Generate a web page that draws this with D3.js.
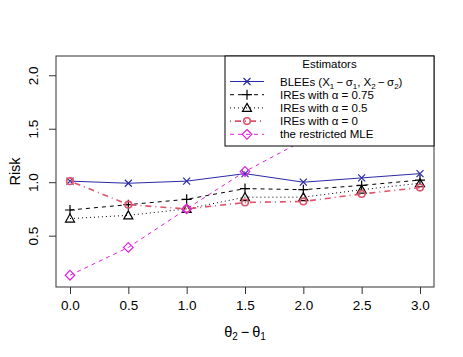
<!DOCTYPE html>
<html>
<head>
<meta charset="utf-8">
<script src="https://cdn.jsdelivr.net/npm/d3@7"></script>
<style>
  body { margin: 0; background: #fff; }
  svg { font-family: "Liberation Sans", Arial, sans-serif; }
</style>
</head>
<body>
<div id="chart"></div>
<script>
// data
var thetaDiff = [0, 0.5, 1.0, 1.5, 2.0, 2.5, 3.0];
var blee   = [1.01, 0.99, 1.01, 1.08, 1.00, 1.04, 1.08];
var ire075 = [0.74, 0.79, 0.84, 0.94, 0.93, 0.97, 1.02];
var ire05  = [0.66, 0.69, 0.75, 0.86, 0.86, 0.93, 0.99];
var ire0   = [1.01, 0.79, 0.75, 0.81, 0.82, 0.89, 0.95];
var mle    = [0.13, 0.39, 0.75, 1.10, 1.39, 1.66, 1.92];
var xTicks = [0, 0.5, 1.0, 1.5, 2.0, 2.5, 3.0];
var yTicks = [0.5, 1.0, 1.5, 2.0];

var width = 463, height = 357;
// plot region (note: "top" is reserved on window, so use pTop etc.)
var pLeft = 56, pRight = 434, pTop = 56, pBottom = 287;

var series = [
  {name: "blee",   values: blee,   color: "#2a2aa6", dash: null,      lw: 1,   pch: "x"},
  {name: "ire075", values: ire075, color: "#000000", dash: "4,4",     lw: 1,   pch: "plus"},
  {name: "ire05",  values: ire05,  color: "#000000", dash: "1,3",     lw: 1,   pch: "tri"},
  {name: "ire0",   values: ire0,   color: "#df536b", dash: "1,4,6,4", lw: 1.6, pch: "circ"},
  {name: "mle",    values: mle,    color: "#dd22dd", dash: "4,4",     lw: 1,   pch: "diam"}
];

var svg = d3.select("#chart").append("svg")
    .attr("width", width)
    .attr("height", height);

var x = d3.scaleLinear().domain([-0.12, 3.12]).range([pLeft, pRight]);
var y = d3.scaleLinear().domain([0.02, 2.18]).range([pBottom, pTop]);

svg.append("clipPath").attr("id", "clip")
  .append("rect")
    .attr("x", pLeft).attr("y", pTop)
    .attr("width", pRight - pLeft).attr("height", pBottom - pTop);

// axes
var xAxis = svg.append("g")
    .attr("transform", "translate(0," + pBottom + ")")
    .call(d3.axisBottom(x).tickValues(xTicks).tickFormat(d3.format(".1f")).tickSize(7).tickSizeOuter(0));
var yAxis = svg.append("g")
    .attr("transform", "translate(" + pLeft + ",0)")
    .call(d3.axisLeft(y).tickValues(yTicks).tickFormat(d3.format(".1f")).tickSize(7).tickSizeOuter(0));
xAxis.select(".domain").remove();
yAxis.select(".domain").remove();
xAxis.selectAll("line").attr("stroke", "#333");
yAxis.selectAll("line").attr("stroke", "#333");
xAxis.selectAll("text")
    .attr("y", 13).attr("dy", "0.71em")
    .attr("font-size", 13.5).attr("fill", "#000")
    .attr("font-family", "Liberation Sans, Arial, sans-serif");
yAxis.selectAll("text")
    .attr("x", 0).attr("dy", 0).attr("y", 0)
    .attr("text-anchor", "middle")
    .attr("transform", "translate(-18,0) rotate(-90)")
    .attr("font-size", 13.5).attr("fill", "#000")
    .attr("font-family", "Liberation Sans, Arial, sans-serif");

// plot frame
svg.append("rect")
    .attr("x", pLeft).attr("y", pTop)
    .attr("width", pRight - pLeft).attr("height", pBottom - pTop)
    .attr("fill", "none").attr("stroke", "#333").attr("stroke-width", 1);

// axis titles
svg.append("text")
    .attr("transform", "translate(15," + ((pTop + pBottom) / 2) + ") rotate(-90)")
    .attr("text-anchor", "middle").attr("dy", "0.35em")
    .attr("font-size", 14.5)
    .text("Risk");

var xlab = svg.append("text")
    .attr("x", (pLeft + pRight) / 2).attr("y", 332)
    .attr("text-anchor", "middle").attr("dy", "0.35em")
    .attr("font-size", 14.5);
xlab.append("tspan").text("θ");
xlab.append("tspan").attr("font-size", 10).attr("dy", 3).text("2");
xlab.append("tspan").attr("dy", -3).text("\u2009−\u2009θ");
xlab.append("tspan").attr("font-size", 10).attr("dy", 3).text("1");

function drawSymbol(g, type, cx, cy, color, lw) {
  if (type == "x") {
    g.append("path").attr("d", "M" + (cx - 3.5) + "," + (cy - 3.5) + "L" + (cx + 3.5) + "," + (cy + 3.5) +
        "M" + (cx - 3.5) + "," + (cy + 3.5) + "L" + (cx + 3.5) + "," + (cy - 3.5))
      .attr("stroke", color).attr("stroke-width", lw).attr("fill", "none");
  } else if (type == "plus") {
    g.append("path").attr("d", "M" + (cx - 5) + "," + cy + "L" + (cx + 5) + "," + cy +
        "M" + cx + "," + (cy - 5) + "L" + cx + "," + (cy + 5))
      .attr("stroke", color).attr("stroke-width", lw).attr("fill", "none");
  } else if (type == "tri") {
    g.append("path").attr("d", "M" + cx + "," + (cy - 4.5) + "L" + (cx + 4.5) + "," + (cy + 3.5) +
        "L" + (cx - 4.5) + "," + (cy + 3.5) + "Z")
      .attr("stroke", color).attr("stroke-width", lw).attr("fill", "none");
  } else if (type == "circ") {
    g.append("circle").attr("cx", cx).attr("cy", cy).attr("r", 3.3)
      .attr("stroke", color).attr("stroke-width", lw).attr("fill", "none");
  } else if (type == "diam") {
    g.append("path").attr("d", "M" + cx + "," + (cy - 4.8) + "L" + (cx + 4.8) + "," + cy +
        "L" + cx + "," + (cy + 4.8) + "L" + (cx - 4.8) + "," + cy + "Z")
      .attr("stroke", color).attr("stroke-width", lw).attr("fill", "none");
  }
}

var plot = svg.append("g").attr("clip-path", "url(#clip)");
var line = d3.line()
    .x(function(d, i) { return x(thetaDiff[i]); })
    .y(function(d) { return y(d); });

series.forEach(function(s) {
  plot.append("path")
      .datum(s.values)
      .attr("d", line)
      .attr("fill", "none")
      .attr("stroke", s.color)
      .attr("stroke-width", s.lw)
      .attr("stroke-dasharray", s.dash);
  s.values.forEach(function(v, i) {
    drawSymbol(plot, s.pch, x(thetaDiff[i]), y(v), s.color, s.pch == "circ" ? 1.6 : 1.2);
  });
});

// legend
var legendLabels = ["BLEEs", "IREs with α = 0.75", "IREs with α = 0.5", "IREs with α = 0", "the restricted MLE"];
var lg = svg.append("g");
lg.append("rect")
    .attr("x", 225).attr("y", pTop)
    .attr("width", pRight - 225).attr("height", 90)
    .attr("fill", "#fff").attr("stroke", "#000").attr("stroke-width", 1);
lg.append("text")
    .attr("x", (225 + pRight) / 2).attr("y", 64)
    .attr("text-anchor", "middle").attr("dy", "0.35em")
    .attr("font-size", 11.5)
    .text("Estimators");

series.forEach(function(s, i) {
  var ly = 81.5 + i * 13.2;
  lg.append("line")
      .attr("x1", 230).attr("x2", 264).attr("y1", ly).attr("y2", ly)
      .attr("stroke", s.color).attr("stroke-width", s.lw)
      .attr("stroke-dasharray", s.dash);
  drawSymbol(lg, s.pch, 247, ly, s.color, s.pch == "circ" ? 1.6 : 1.2);
  var t = lg.append("text")
      .attr("x", 280).attr("y", ly).attr("dy", "0.35em")
      .attr("font-size", 11.5);
  if (i == 0) {
    t.append("tspan").text("BLEEs (X");
    t.append("tspan").attr("font-size", 8).attr("dy", 3).text("1");
    t.append("tspan").attr("dy", -3).text("\u2009−\u2009σ");
    t.append("tspan").attr("font-size", 8).attr("dy", 3).text("1");
    t.append("tspan").attr("dy", -3).text(", X");
    t.append("tspan").attr("font-size", 8).attr("dy", 3).text("2");
    t.append("tspan").attr("dy", -3).text("\u2009−\u2009σ");
    t.append("tspan").attr("font-size", 8).attr("dy", 3).text("2");
    t.append("tspan").attr("dy", -3).text(")");
  } else {
    t.text(legendLabels[i]);
  }
});
</script>
</body>
</html>
